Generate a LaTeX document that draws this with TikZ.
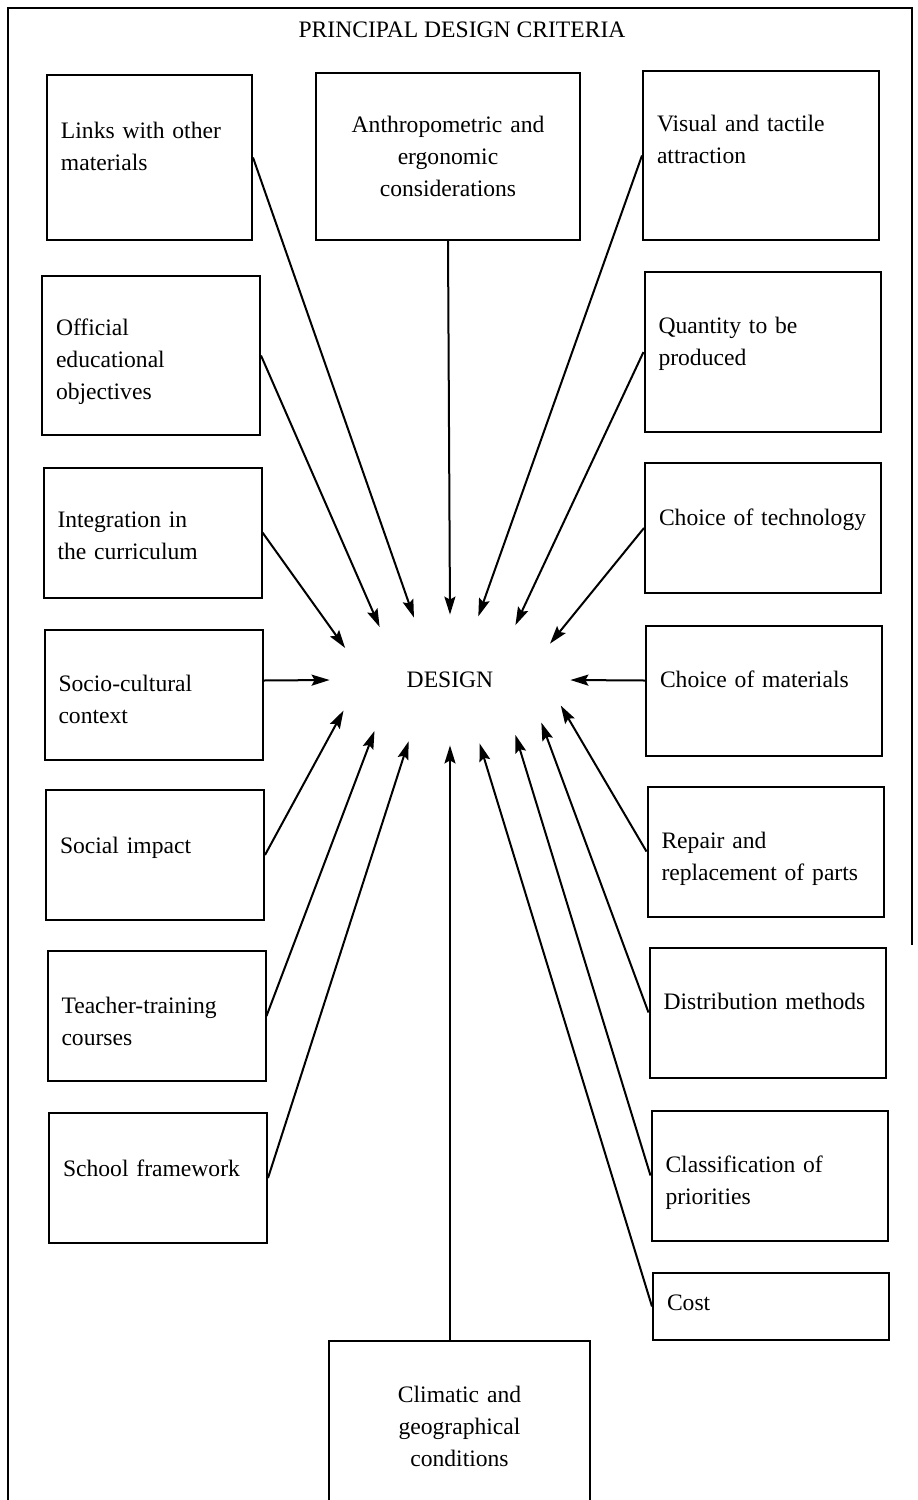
\documentclass[tikz,border=0pt]{standalone}
\usepackage{fontspec}
\setmainfont{Liberation Serif}
\usetikzlibrary{arrows.meta,shapes.geometric}

\tikzset{
  crit/.style={draw, line width=1pt, inner xsep=7pt, inner ysep=0pt, align=left},
  lcrit/.style={crit, text width=95pt, minimum height=65pt},
  rcrit/.style={crit, text width=104pt, minimum height=65pt},
  infl/.style={line width=1pt, -{Stealth[length=9pt,width=5.5pt,inset=1.5pt]}}
}

\begin{document}
\begin{tikzpicture}[x=0.5pt, y=-0.5pt, font=\fontsize{11.8}{16}\selectfont]
  \useasboundingbox (0,0) rectangle (917,1500);

  \draw[line width=1pt] (8,1500) -- (8,8) -- (912,8) -- (912,945);
  \node (title) at (462,30) {PRINCIPAL DESIGN CRITERIA};

  \node[ellipse, minimum width=120pt, minimum height=65pt, inner sep=0pt] (design) at (450,680) {DESIGN};

  % left column
  \node[lcrit, text width=88.5pt, minimum height=82.5pt, text depth=27pt] (links) at (149.5,157.5) {Links with other\\materials};
  \node[lcrit, minimum height=79.5pt, text height=14.3pt] (official) at (151,355.5) {Official\\educational\\objectives};
  \node[lcrit, text height=11.3pt] (integr) at (152.5,532.5) {Integration in\\the curriculum};
  \node[lcrit, text height=13.3pt] (socio) at (153.5,694.5) {Socio-cultural\\context};
  \node[lcrit, text depth=9.6pt] (impact) at (155,855) {Social impact};
  \node[lcrit, text height=13.3pt] (teacher) at (156.5,1016) {Teacher-training\\courses};
  \node[lcrit, text depth=10pt] (school) at (158,1178) {School framework};

  % top and bottom
  \node[crit, align=center, text width=118pt, minimum height=83.5pt] (anthro) at (448,156.5) {Anthropometric and\\ergonomic\\considerations};
  \node[crit, align=center, text width=116.5pt, minimum height=90pt, text depth=37pt] (climatic) at (459.5,1431) {Climatic and\\geographical\\conditions};

  % right column
  \node[rcrit, minimum height=84.5pt, text depth=32pt] (visual) at (761,155.5) {Visual and tactile\\attraction};
  \node[rcrit, minimum height=80pt, text depth=27pt] (quantity) at (762.5,352) {Quantity to be\\produced};
  \node[rcrit, text depth=10.6pt] (techn) at (763,528) {Choice of technology};
  \node[rcrit, text depth=11pt] (materials) at (764,690.5) {Choice of materials};
  \node[rcrit, text height=15.3pt] (repair) at (765.5,851.5) {Repair and\\replacement of parts};
  \node[rcrit, text depth=11pt] (distrib) at (767.5,1012.5) {Distribution methods};
  \node[rcrit, text height=15.3pt] (classif) at (769.5,1175.5) {Classification of\\priorities};
  \node[rcrit, minimum height=33.5pt, text depth=4pt] (cost) at (771,1306.5) {Cost};

  % arrows into DESIGN
  \draw[infl] (links.east) -- (design.120);
  \draw[infl] (official.east) -- (design.143);
  \draw[infl] (integr.east) -- (design.163);
  \draw[infl] ([yshift=7pt]socio.east) -- (design.180);
  \draw[infl] (impact.east) -- (design.196);
  \draw[infl] (teacher.east) -- (design.214);
  \draw[infl] (school.east) -- (design.236);
  \draw[infl] (anthro.south) -- (design.90);
  \draw[infl] (visual.west) -- (design.66);
  \draw[infl] (quantity.west) -- (design.40);
  \draw[infl] (techn.west) -- (design.20);
  \draw[infl] ([yshift=5pt]materials.west) -- (design.0);
  \draw[infl] (repair.west) -- (design.347);
  \draw[infl] (distrib.west) -- (design.335);
  \draw[infl] (classif.west) -- (design.320);
  \draw[infl] (cost.west) -- (design.295);
  \draw[infl] (design.south |- climatic.north) -- (design.270);
\end{tikzpicture}
\end{document}
